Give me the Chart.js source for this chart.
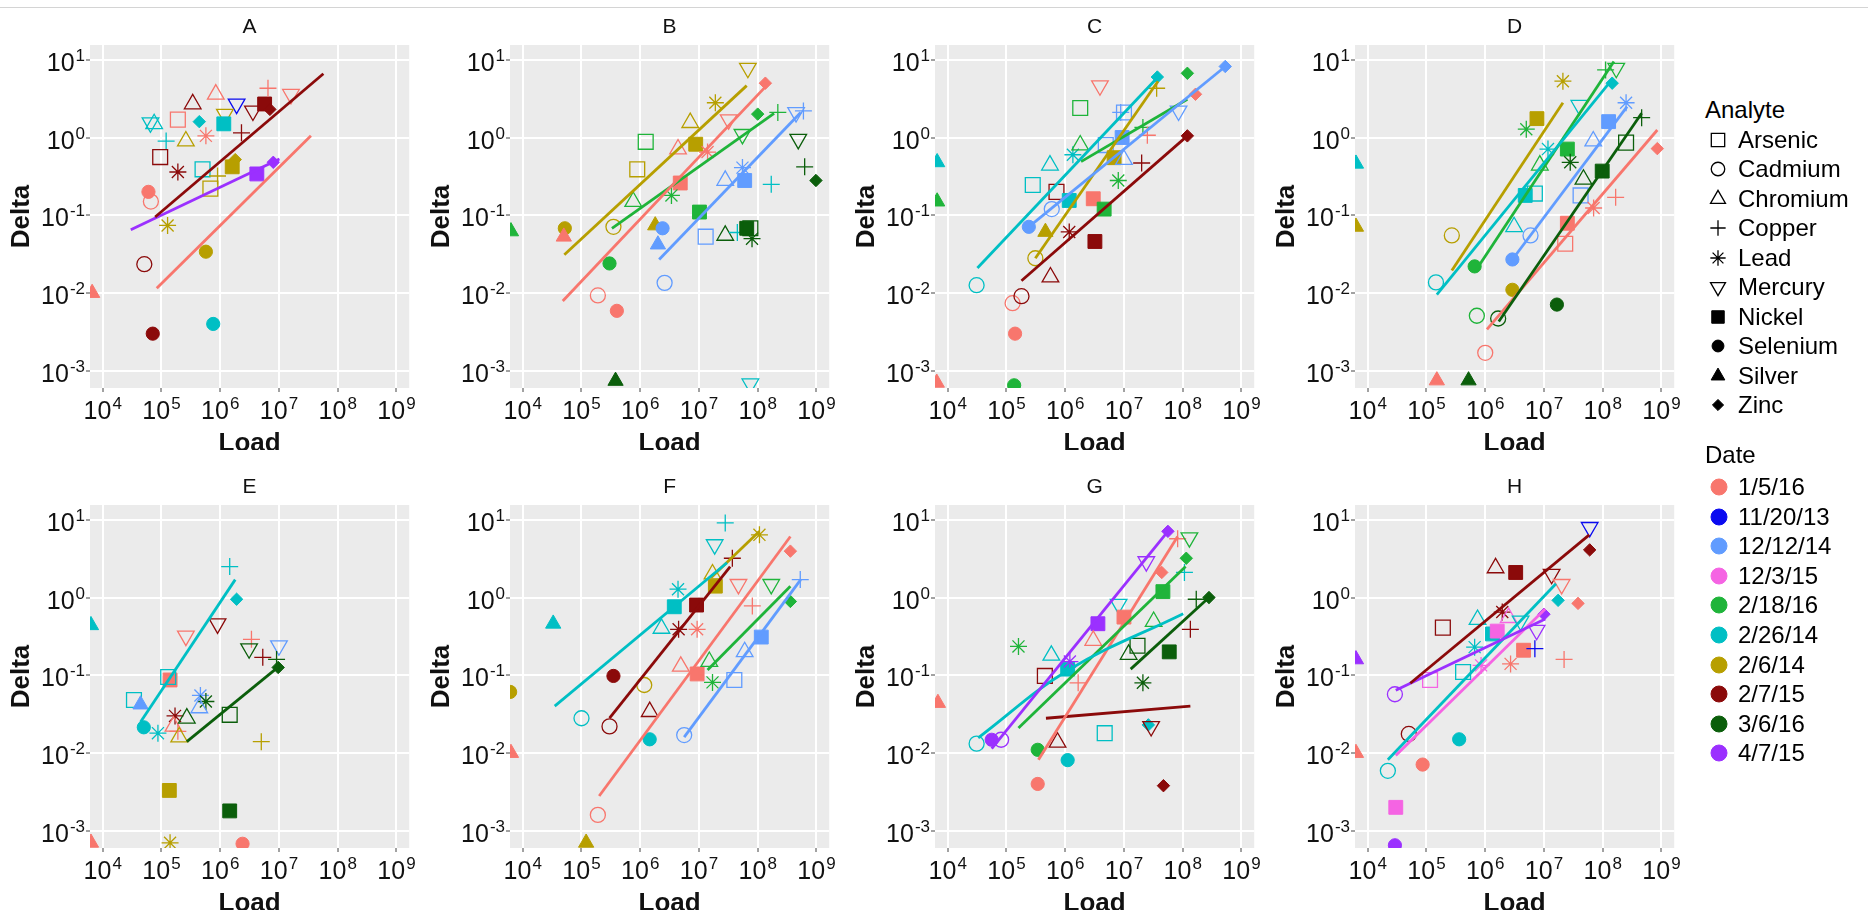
<!DOCTYPE html>
<html>
<head>
<meta charset="utf-8">
<title>Delta vs Load</title>
<script src="https://cdn.jsdelivr.net/npm/chart.js@4.4.1/dist/chart.umd.min.js"></script>
<style>
  html, body { margin: 0; padding: 0; background: #fff; }
  #page { position: relative; width: 1868px; height: 915px; overflow: hidden;
          font-family: "Liberation Sans", Arial, Helvetica, sans-serif; }
  #topline { position: absolute; left: 0; top: 7px; width: 1868px; height: 1px; background: #d4d4d4; }
  canvas.panel { position: absolute; }
  .lg { position: absolute; left: 1706px; height: 30px; line-height: 30px; font-size: 24px;
        color: #000; display: flex; align-items: center; white-space: nowrap; }
  .lg canvas { width: 32px; height: 30px; }
  .lgTitle { position: absolute; left: 1705px; height: 30px; line-height: 30px; font-size: 24px; color: #000; }
</style>
</head>
<body>
<div id="page"><div id="topline"></div></div>
<script>
// ---- categories ----
const dates = ['1/5/16', '11/20/13', '12/12/14', '12/3/15', '2/18/16', '2/26/14', '2/6/14', '2/7/15', '3/6/16', '4/7/15'];
const dateColors = ['#F8766D', '#0A0AF0', '#619CFF', '#F564E3', '#1FB43A', '#00BFC4', '#B79F00', '#8B0A0A', '#0B5E0B', '#9B30FF'];
const analytes = ['Arsenic', 'Cadmium', 'Chromium', 'Copper', 'Lead', 'Mercury', 'Nickel', 'Selenium', 'Silver', 'Zinc'];

// tick labels (powers of ten)
const xTickExps = [4, 5, 6, 7, 8, 9];
const yTickExps = [-3, -2, -1, 0, 1];

// ---- points: [analyte, date, load, delta] ----
const pointsA = [
  ['Mercury', '2/26/14', 6.5e4, 1.55], ['Chromium', '2/26/14', 7.5e4, 1.5],
  ['Arsenic', '1/5/16', 1.9e5, 1.7], ['Chromium', '2/7/15', 3.4e5, 2.7],
  ['Chromium', '1/5/16', 8.4e5, 3.6], ['Mercury', '11/20/13', 1.9e6, 2.7],
  ['Mercury', '2/7/15', 3.6e6, 2.2], ['Nickel', '2/7/15', 5.7e6, 2.7],
  ['Zinc', '2/7/15', 7e6, 2.3], ['Copper', '1/5/16', 6.5e6, 4.3],
  ['Mercury', '1/5/16', 1.6e7, 3.6], ['Zinc', '2/26/14', 4.4e5, 1.6],
  ['Mercury', '2/6/14', 1.2e6, 2.0], ['Nickel', '2/26/14', 1.15e6, 1.5],
  ['Copper', '2/26/14', 1.2e5, 0.9], ['Chromium', '2/6/14', 2.6e5, 0.9],
  ['Lead', '1/5/16', 5.7e5, 1.05], ['Copper', '2/7/15', 2.3e6, 1.15],
  ['Arsenic', '2/7/15', 9.5e4, 0.56], ['Lead', '2/7/15', 1.9e5, 0.36],
  ['Arsenic', '2/26/14', 5e5, 0.39], ['Arsenic', '2/6/14', 6.8e5, 0.22],
  ['Copper', '2/6/14', 9e5, 0.32], ['Nickel', '2/6/14', 1.6e6, 0.42],
  ['Zinc', '2/6/14', 1.8e6, 0.52], ['Nickel', '4/7/15', 4.2e6, 0.34],
  ['Zinc', '4/7/15', 8e6, 0.48], ['Selenium', '1/5/16', 6e4, 0.2],
  ['Cadmium', '1/5/16', 6.6e4, 0.15], ['Lead', '2/6/14', 1.27e5, 0.074],
  ['Cadmium', '2/7/15', 5.1e4, 0.0235], ['Selenium', '2/6/14', 5.7e5, 0.034],
  ['Silver', '1/5/16', 6.6e3, 0.01], ['Selenium', '2/7/15', 7.1e4, 0.003],
  ['Selenium', '2/26/14', 7.6e5, 0.004]
];
const pointsB = [
  ['Silver', '2/18/16', 6.3e3, 0.062], ['Selenium', '2/6/14', 5.2e4, 0.068],
  ['Silver', '1/5/16', 5e4, 0.053], ['Cadmium', '2/6/14', 3.5e5, 0.071],
  ['Selenium', '2/18/16', 3e5, 0.024], ['Cadmium', '1/5/16', 1.9e5, 0.0093],
  ['Selenium', '1/5/16', 4e5, 0.0059], ['Silver', '3/6/16', 3.8e5, 0.00074],
  ['Arsenic', '2/18/16', 1.24e6, 0.88], ['Arsenic', '2/6/14', 8.9e5, 0.39],
  ['Chromium', '2/6/14', 7.1e6, 1.55], ['Nickel', '2/6/14', 8.8e6, 0.82],
  ['Lead', '2/6/14', 1.9e7, 2.8], ['Mercury', '2/6/14', 6.8e7, 7.8],
  ['Chromium', '2/18/16', 7.6e5, 0.15], ['Chromium', '1/5/16', 4.4e6, 0.71],
  ['Nickel', '1/5/16', 4.8e6, 0.26], ['Mercury', '1/5/16', 3.2e7, 1.7],
  ['Zinc', '1/5/16', 1.35e8, 5], ['Lead', '1/5/16', 1.4e7, 0.65],
  ['Lead', '2/18/16', 3.4e6, 0.18], ['Nickel', '2/18/16', 1.02e7, 0.11],
  ['Mercury', '2/18/16', 5.5e7, 1.1], ['Zinc', '2/18/16', 1e8, 2.0],
  ['Copper', '2/18/16', 2.2e8, 2.1], ['Silver', '2/6/14', 1.8e6, 0.074],
  ['Selenium', '12/12/14', 2.4e6, 0.068], ['Silver', '12/12/14', 2e6, 0.042],
  ['Cadmium', '12/12/14', 2.6e6, 0.0135], ['Arsenic', '12/12/14', 1.3e7, 0.053],
  ['Chromium', '3/6/16', 2.8e7, 0.055], ['Copper', '2/26/14', 4.5e7, 0.06],
  ['Nickel', '3/6/16', 6.5e7, 0.068], ['Arsenic', '3/6/16', 7.5e7, 0.068],
  ['Lead', '3/6/16', 8e7, 0.05], ['Chromium', '12/12/14', 2.8e7, 0.28],
  ['Nickel', '12/12/14', 6e7, 0.28], ['Lead', '12/12/14', 5.5e7, 0.41],
  ['Copper', '2/26/14', 1.7e8, 0.25], ['Mercury', '12/12/14', 4.5e8, 2.1],
  ['Copper', '12/12/14', 6e8, 2.2], ['Mercury', '3/6/16', 4.9e8, 0.95],
  ['Copper', '3/6/16', 6.3e8, 0.42], ['Zinc', '3/6/16', 9.8e8, 0.28],
  ['Mercury', '2/26/14', 7.5e7, 0.00068]
];
const pointsC = [
  ['Silver', '2/26/14', 6.6e3, 0.48], ['Silver', '2/18/16', 6.6e3, 0.15],
  ['Silver', '1/5/16', 6.5e3, 0.0007], ['Cadmium', '2/26/14', 3.1e4, 0.0126],
  ['Cadmium', '1/5/16', 1.27e5, 0.0074], ['Cadmium', '2/7/15', 1.8e5, 0.0091],
  ['Selenium', '1/5/16', 1.4e5, 0.003], ['Selenium', '2/18/16', 1.35e5, 0.00065],
  ['Selenium', '12/12/14', 2.4e5, 0.071], ['Cadmium', '2/6/14', 3.1e5, 0.028],
  ['Chromium', '2/7/15', 5.6e5, 0.016], ['Silver', '2/6/14', 4.6e5, 0.061],
  ['Cadmium', '12/12/14', 5.9e5, 0.12], ['Arsenic', '2/26/14', 2.8e5, 0.245],
  ['Chromium', '2/26/14', 5.5e5, 0.44], ['Arsenic', '2/7/15', 7.1e5, 0.2],
  ['Nickel', '2/26/14', 1.17e6, 0.155], ['Lead', '2/26/14', 1.35e6, 0.6],
  ['Chromium', '2/18/16', 1.8e6, 0.8], ['Arsenic', '2/18/16', 1.8e6, 2.4],
  ['Mercury', '1/5/16', 3.9e6, 4.65], ['Lead', '2/7/15', 1.17e6, 0.061],
  ['Nickel', '1/5/16', 3e6, 0.163], ['Nickel', '2/7/15', 3.2e6, 0.046],
  ['Nickel', '2/18/16', 4.6e6, 0.12], ['Arsenic', '12/12/14', 4.9e6, 0.8],
  ['Nickel', '2/6/14', 6.8e6, 0.55], ['Chromium', '12/12/14', 1e7, 0.52],
  ['Lead', '2/18/16', 8e6, 0.28], ['Nickel', '12/12/14', 9.3e6, 1.0],
  ['Copper', '12/12/14', 8.8e6, 2.1], ['Arsenic', '12/12/14', 1e7, 2.1],
  ['Copper', '2/18/16', 2.1e7, 1.35], ['Copper', '1/5/16', 2.5e7, 1.07],
  ['Copper', '2/7/15', 2e7, 0.47], ['Copper', '2/6/14', 3.6e7, 4.3],
  ['Zinc', '2/26/14', 3.7e7, 6.0], ['Mercury', '12/12/14', 8.5e7, 2.2],
  ['Zinc', '2/18/16', 1.2e8, 6.7], ['Zinc', '1/5/16', 1.65e8, 3.6],
  ['Zinc', '2/7/15', 1.2e8, 1.05], ['Zinc', '12/12/14', 5.3e8, 8.2]
];
const pointsD = [
  ['Silver', '2/26/14', 6.3e3, 0.46], ['Silver', '2/6/14', 6.3e3, 0.071],
  ['Silver', '1/5/16', 1.5e5, 0.00075], ['Silver', '3/6/16', 5.2e5, 0.00075],
  ['Cadmium', '2/6/14', 2.7e5, 0.055], ['Cadmium', '2/26/14', 1.45e5, 0.0137],
  ['Cadmium', '2/18/16', 7.2e5, 0.0051], ['Cadmium', '1/5/16', 1e6, 0.0017],
  ['Cadmium', '3/6/16', 1.66e6, 0.0047], ['Selenium', '2/18/16', 6.6e5, 0.022],
  ['Selenium', '2/6/14', 2.9e6, 0.011], ['Selenium', '3/6/16', 1.66e7, 0.0071],
  ['Selenium', '12/12/14', 2.9e6, 0.027], ['Cadmium', '12/12/14', 5.9e6, 0.055],
  ['Chromium', '2/26/14', 3.1e6, 0.071], ['Nickel', '2/26/14', 4.8e6, 0.18],
  ['Arsenic', '2/26/14', 7e6, 0.19], ['Chromium', '2/18/16', 8.5e6, 0.44],
  ['Lead', '2/26/14', 1.17e7, 0.71], ['Nickel', '2/18/16', 2.5e7, 0.71],
  ['Lead', '2/18/16', 5e6, 1.28], ['Nickel', '2/6/14', 7.6e6, 1.75],
  ['Lead', '2/6/14', 2.1e7, 5.3], ['Mercury', '2/26/14', 4e7, 2.6],
  ['Copper', '2/18/16', 1.12e8, 7.4], ['Mercury', '2/18/16', 1.7e8, 7.8],
  ['Zinc', '2/26/14', 1.45e8, 5], ['Chromium', '12/12/14', 6.9e7, 0.9],
  ['Nickel', '12/12/14', 1.26e8, 1.6], ['Lead', '12/12/14', 2.5e8, 2.8],
  ['Lead', '3/6/16', 2.8e7, 0.48], ['Chromium', '3/6/16', 4.7e7, 0.29],
  ['Arsenic', '12/12/14', 4.2e7, 0.18], ['Nickel', '3/6/16', 9.8e7, 0.37],
  ['Arsenic', '3/6/16', 2.5e8, 0.86], ['Copper', '3/6/16', 4.6e8, 1.8],
  ['Zinc', '1/5/16', 8.5e8, 0.72], ['Copper', '1/5/16', 1.66e8, 0.17],
  ['Lead', '1/5/16', 7e7, 0.124], ['Nickel', '1/5/16', 2.5e7, 0.079],
  ['Arsenic', '1/5/16', 2.3e7, 0.043]
];
const pointsE = [
  ['Silver', '2/26/14', 6.3e3, 0.44], ['Silver', '1/5/16', 6.3e3, 0.0007],
  ['Arsenic', '2/26/14', 3.4e4, 0.048], ['Silver', '12/12/14', 4.4e4, 0.042],
  ['Selenium', '2/26/14', 5e4, 0.0214], ['Lead', '2/26/14', 8.7e4, 0.018],
  ['Nickel', '1/5/16', 1.4e5, 0.087], ['Arsenic', '2/26/14', 1.3e5, 0.095],
  ['Mercury', '1/5/16', 2.6e5, 0.32], ['Mercury', '2/7/15', 9e5, 0.46],
  ['Copper', '2/26/14', 1.45e6, 2.5], ['Zinc', '2/26/14', 1.9e6, 0.95],
  ['Lead', '2/7/15', 1.7e5, 0.03], ['Chromium', '1/5/16', 1.6e5, 0.022],
  ['Copper', '1/5/16', 1.9e5, 0.019], ['Chromium', '3/6/16', 2.7e5, 0.028],
  ['Chromium', '2/6/14', 2e5, 0.016], ['Lead', '12/12/14', 4.6e5, 0.055],
  ['Lead', '3/6/16', 5.7e5, 0.046], ['Chromium', '12/12/14', 4.4e5, 0.038],
  ['Arsenic', '3/6/16', 1.45e6, 0.031], ['Copper', '1/5/16', 3.4e6, 0.29],
  ['Mercury', '3/6/16', 3.1e6, 0.22], ['Copper', '2/7/15', 5.3e6, 0.17],
  ['Mercury', '12/12/14', 1e7, 0.24], ['Copper', '3/6/16', 9.1e6, 0.16],
  ['Zinc', '3/6/16', 9.7e6, 0.126], ['Copper', '2/6/14', 5e6, 0.014],
  ['Nickel', '2/6/14', 1.36e5, 0.0033], ['Nickel', '3/6/16', 1.45e6, 0.0018],
  ['Lead', '2/6/14', 1.4e5, 0.0007], ['Selenium', '1/5/16', 2.4e6, 0.00068]
];
const pointsF = [
  ['Selenium', '2/6/14', 6.1e3, 0.061], ['Silver', '1/5/16', 6.3e3, 0.01],
  ['Silver', '2/26/14', 3.3e4, 0.46], ['Cadmium', '2/26/14', 1e5, 0.028],
  ['Silver', '2/6/14', 1.2e5, 0.0007], ['Cadmium', '1/5/16', 1.9e5, 0.0016],
  ['Cadmium', '2/7/15', 3e5, 0.022], ['Selenium', '2/7/15', 3.5e5, 0.098],
  ['Cadmium', '2/6/14', 1.17e6, 0.075], ['Chromium', '2/7/15', 1.45e6, 0.034],
  ['Selenium', '2/26/14', 1.45e6, 0.015], ['Cadmium', '12/12/14', 5.6e6, 0.017],
  ['Chromium', '2/26/14', 2.3e6, 0.4], ['Lead', '2/26/14', 4.4e6, 1.28],
  ['Nickel', '2/26/14', 3.8e6, 0.76], ['Lead', '2/7/15', 4.5e6, 0.39],
  ['Nickel', '2/7/15', 9.1e6, 0.8], ['Lead', '1/5/16', 9.3e6, 0.39],
  ['Chromium', '1/5/16', 4.9e6, 0.13], ['Nickel', '1/5/16', 9.3e6, 0.104],
  ['Lead', '2/18/16', 1.7e7, 0.081], ['Mercury', '2/26/14', 1.85e7, 4.8],
  ['Copper', '2/26/14', 2.8e7, 9.1], ['Nickel', '2/6/14', 1.9e7, 1.4],
  ['Chromium', '2/6/14', 1.7e7, 2.0], ['Copper', '2/7/15', 3.7e7, 3.2],
  ['Lead', '2/6/14', 1.07e8, 6.4], ['Mercury', '1/5/16', 4.7e7, 1.48],
  ['Copper', '1/5/16', 8.1e7, 0.78], ['Mercury', '2/18/16', 1.7e8, 1.48],
  ['Zinc', '1/5/16', 3.6e8, 3.95], ['Zinc', '2/18/16', 3.6e8, 0.89],
  ['Copper', '12/12/14', 5.3e8, 1.7], ['Nickel', '12/12/14', 1.15e8, 0.31],
  ['Chromium', '12/12/14', 6e7, 0.2], ['Arsenic', '12/12/14', 4e7, 0.087],
  ['Chromium', '2/18/16', 1.5e7, 0.15]
];
const pointsG = [
  ['Silver', '1/5/16', 6.8e3, 0.044], ['Cadmium', '2/26/14', 3.1e4, 0.0132],
  ['Selenium', '4/7/15', 5.6e4, 0.0148], ['Cadmium', '4/7/15', 8.1e4, 0.0148],
  ['Lead', '2/18/16', 1.6e5, 0.235], ['Arsenic', '2/7/15', 4.5e5, 0.098],
  ['Chromium', '2/26/14', 5.8e5, 0.18], ['Selenium', '2/18/16', 3.4e5, 0.011],
  ['Selenium', '1/5/16', 3.4e5, 0.004], ['Chromium', '2/7/15', 7.4e5, 0.0137],
  ['Selenium', '2/26/14', 1.1e6, 0.0081], ['Nickel', '2/26/14', 1.1e6, 0.12],
  ['Lead', '4/7/15', 1.2e6, 0.15], ['Copper', '1/5/16', 1.66e6, 0.08],
  ['Nickel', '4/7/15', 3.6e6, 0.46], ['Chromium', '1/5/16', 3e6, 0.28],
  ['Arsenic', '2/26/14', 4.7e6, 0.018], ['Mercury', '2/26/14', 8.1e6, 0.82],
  ['Nickel', '1/5/16', 1e7, 0.56], ['Mercury', '4/7/15', 2.4e7, 2.9],
  ['Zinc', '1/5/16', 4.4e7, 2.1], ['Zinc', '4/7/15', 5.6e7, 7.1],
  ['Copper', '1/5/16', 8.2e7, 5.7], ['Mercury', '2/18/16', 1.3e8, 5.9],
  ['Zinc', '2/18/16', 1.15e8, 3.2], ['Copper', '2/26/14', 1.07e8, 2.1],
  ['Nickel', '2/18/16', 4.6e7, 1.19], ['Chromium', '2/18/16', 3.2e7, 0.49],
  ['Chromium', '3/6/16', 1.2e7, 0.185], ['Arsenic', '3/6/16', 1.7e7, 0.24],
  ['Nickel', '3/6/16', 5.9e7, 0.2], ['Lead', '3/6/16', 2.1e7, 0.08],
  ['Copper', '2/7/15', 1.35e8, 0.39], ['Copper', '3/6/16', 1.7e8, 0.95],
  ['Zinc', '3/6/16', 2.8e8, 1.0], ['Zinc', '2/26/14', 2.6e7, 0.023],
  ['Mercury', '2/7/15', 2.9e7, 0.022], ['Zinc', '2/7/15', 4.7e7, 0.0038]
];
const pointsH = [
  ['Silver', '4/7/15', 6.3e3, 0.16], ['Silver', '1/5/16', 6.3e3, 0.01],
  ['Cadmium', '4/7/15', 2.9e4, 0.057], ['Cadmium', '2/26/14', 2.2e4, 0.0059],
  ['Cadmium', '2/7/15', 5e4, 0.0176], ['Selenium', '1/5/16', 8.6e4, 0.0071],
  ['Nickel', '12/3/15', 3e4, 0.002], ['Selenium', '4/7/15', 2.9e4, 0.00065],
  ['Selenium', '2/26/14', 3.6e5, 0.015], ['Arsenic', '12/3/15', 1.15e5, 0.087],
  ['Arsenic', '2/7/15', 1.9e5, 0.41], ['Arsenic', '2/26/14', 4.2e5, 0.11],
  ['Lead', '2/26/14', 6.6e5, 0.23], ['Lead', '12/3/15', 8.5e5, 0.134],
  ['Chromium', '2/26/14', 7.4e5, 0.52], ['Nickel', '2/26/14', 1.33e6, 0.34],
  ['Nickel', '12/3/15', 1.6e6, 0.37], ['Chromium', '2/7/15', 1.5e6, 2.4],
  ['Nickel', '2/7/15', 3.3e6, 2.1], ['Lead', '2/7/15', 1.95e6, 0.65],
  ['Chromium', '12/3/15', 2.5e6, 0.55], ['Lead', '1/5/16', 2.7e6, 0.14],
  ['Nickel', '1/5/16', 4.5e6, 0.21], ['Copper', '11/20/13', 7e6, 0.22],
  ['Mercury', '4/7/15', 7.5e6, 0.38], ['Mercury', '2/26/14', 4e6, 0.5],
  ['Zinc', '4/7/15', 1e7, 0.61], ['Mercury', '2/7/15', 1.35e7, 2.0],
  ['Mercury', '1/5/16', 2e7, 1.48], ['Zinc', '2/26/14', 1.74e7, 0.92],
  ['Zinc', '1/5/16', 3.8e7, 0.84], ['Copper', '1/5/16', 2.2e7, 0.16],
  ['Mercury', '11/20/13', 6e7, 8.0], ['Zinc', '2/7/15', 6e7, 4.1]
];

// ---- fitted lines: [date, load1, delta1, load2, delta2, ...] ----
const linesA = [
  ['2/7/15', 7.8e4, 0.095, 5.7e7, 6.6],
  ['4/7/15', 3e4, 0.065, 1.02e7, 0.53],
  ['1/5/16', 8.3e4, 0.0115, 3.5e7, 1.05]
];
const linesB = [
  ['2/6/14', 5.1e4, 0.031, 6.5e7, 4.65],
  ['1/5/16', 4.8e4, 0.0079, 1.3e8, 4.35],
  ['2/18/16', 3.3e5, 0.068, 1.9e8, 2.04],
  ['12/12/14', 2.1e6, 0.027, 5.4e8, 2.1]
];
const linesC = [
  ['2/26/14', 3.2e4, 0.021, 3.8e7, 6.0],
  ['12/12/14', 2.4e5, 0.071, 5.3e8, 8.2],
  ['2/6/14', 3.1e5, 0.028, 3.8e7, 5.3],
  ['2/18/16', 1.86e6, 0.49, 1.2e8, 3.1],
  ['2/7/15', 1.8e5, 0.0144, 1.2e8, 1.05]
];
const linesD = [
  ['2/6/14', 2.7e5, 0.0195, 2.1e7, 2.8],
  ['2/26/14', 1.5e5, 0.0095, 1.45e8, 5.6],
  ['2/18/16', 6.9e5, 0.0195, 1.55e8, 9.5],
  ['12/12/14', 2.9e6, 0.027, 2.6e8, 2.5],
  ['3/6/16', 1.7e6, 0.0043, 4.6e8, 2.05],
  ['1/5/16', 1.07e6, 0.0034, 8.5e8, 1.25]
];
const linesE = [
  ['2/26/14', 4.4e4, 0.025, 1.8e6, 1.7],
  ['3/6/16', 2.7e5, 0.014, 1.05e7, 0.134]
];
const linesF = [
  ['2/26/14', 3.5e4, 0.04, 3e7, 2.8],
  ['2/7/15', 3e5, 0.028, 3.4e7, 2.5],
  ['2/6/14', 1.6e7, 1.8, 1.07e8, 7.1],
  ['1/5/16', 2e5, 0.0028, 3.6e8, 6.1],
  ['2/18/16', 1.4e7, 0.117, 3.6e8, 1.4],
  ['12/12/14', 5.6e6, 0.016, 5.4e8, 1.7]
];
const linesG = [
  ['4/7/15', 5.6e4, 0.0114, 5.6e7, 7.1],
  ['2/26/14', 3.3e4, 0.0157, 1.1e6, 0.115, 1.02e8, 0.62],
  ['2/18/16', 1.6e5, 0.021, 1.12e8, 2.5],
  ['1/5/16', 3.5e5, 0.0082, 8.2e7, 6.1],
  ['3/6/16', 1.3e7, 0.12, 2.8e8, 1.0],
  ['2/7/15', 4.7e5, 0.028, 1.35e8, 0.04]
];
const linesH = [
  ['2/7/15', 5.3e4, 0.079, 5.9e7, 6.4],
  ['4/7/15', 3e4, 0.064, 1.05e7, 0.53],
  ['12/3/15', 3e4, 0.0093, 1.05e7, 0.71],
  ['2/26/14', 2.2e4, 0.0082, 1.6e7, 1.5]
];

// ---- styling ----
const FONT = '"Liberation Sans", Arial, Helvetica, sans-serif';
const shapeStyle = {
  Arsenic:  { style: 'rect',     r: 10.5, rot: 0,   fill: false },
  Cadmium:  { style: 'circle',   r: 7.5,  rot: 0,   fill: false },
  Chromium: { style: 'triangle', r: 9.6,  rot: 0,   fill: false },
  Copper:   { style: 'cross',    r: 8.5,  rot: 0,   fill: false },
  Lead:     { style: 'star',     r: 8.5,  rot: 0,   fill: false },
  Mercury:  { style: 'triangle', r: 9.6,  rot: 180, fill: false },
  Nickel:   { style: 'rect',     r: 9.8,  rot: 0,   fill: true },
  Selenium: { style: 'circle',   r: 6.6,  rot: 0,   fill: true },
  Silver:   { style: 'triangle', r: 8.8,  rot: 0,   fill: true },
  Zinc:     { style: 'rectRot',  r: 6.2,  rot: 0,   fill: true }
};
const colorOf = d => dateColors[dates.indexOf(d)];

const panels = [
  { title: 'A', left: 0,    top: 5,   points: pointsA, lines: linesA },
  { title: 'B', left: 420,  top: 5,   points: pointsB, lines: linesB },
  { title: 'C', left: 845,  top: 5,   points: pointsC, lines: linesC },
  { title: 'D', left: 1265, top: 5,   points: pointsD, lines: linesD },
  { title: 'E', left: 0,    top: 465, points: pointsE, lines: linesE },
  { title: 'F', left: 420,  top: 465, points: pointsF, lines: linesF },
  { title: 'G', left: 845,  top: 465, points: pointsG, lines: linesG },
  { title: 'H', left: 1265, top: 465, points: pointsH, lines: linesH }
];

// "10" with a superscript exponent, like ggplot's math labels
function drawPow(ctx, k, x, baseline, align) {
  ctx.font = '25px ' + FONT;
  const w1 = ctx.measureText('10').width;
  ctx.font = '17px ' + FONT;
  const w2 = ctx.measureText(String(k)).width;
  const total = w1 + 1 + w2;
  const start = align === 'center' ? x - total / 2 : x - total;
  ctx.textAlign = 'left';
  ctx.textBaseline = 'alphabetic';
  ctx.font = '25px ' + FONT;
  ctx.fillText('10', start, baseline);
  ctx.font = '17px ' + FONT;
  ctx.fillText(String(k), start + w1 + 1, baseline - 10);
}

const ggPanel = {
  id: 'ggPanel',
  beforeDraw(chart) {
    const { ctx, chartArea: a } = chart;
    ctx.save();
    ctx.fillStyle = '#EBEBEB';
    ctx.fillRect(a.left, a.top, a.width, a.height);
    ctx.restore();
  },
  afterDraw(chart, args, opts) {
    const { ctx, chartArea: a, scales } = chart;
    ctx.save();
    ctx.fillStyle = '#111';
    xTickExps.forEach(k => drawPow(ctx, k, scales.x.getPixelForValue(10 ** k), a.bottom + 31, 'center'));
    yTickExps.forEach(k => drawPow(ctx, k, a.left - 5, scales.y.getPixelForValue(10 ** k) + 11, 'right'));

    const cx = (a.left + a.right) / 2, cy = (a.top + a.bottom) / 2;
    ctx.textAlign = 'center';
    ctx.textBaseline = 'middle';
    ctx.font = '21px ' + FONT;
    ctx.fillText(opts.title, cx, a.top - 18);
    ctx.font = 'bold 26px ' + FONT;
    ctx.fillText('Load', cx, a.bottom + 56);
    ctx.translate(a.left - 68, cy);
    ctx.rotate(-Math.PI / 2);
    ctx.fillText('Delta', 0, 0);
    ctx.restore();
  }
};

const page = document.getElementById('page');

panels.forEach(p => {
  const cv = document.createElement('canvas');
  cv.className = 'panel';
  cv.width = 421;
  cv.height = 445;
  cv.style.left = p.left + 'px';
  cv.style.top = p.top + 'px';
  page.appendChild(cv);

  const lineSets = p.lines.map(l => {
    const pts = [];
    for (let i = 1; i < l.length; i += 2) pts.push({ x: l[i], y: l[i + 1] });
    return {
      type: 'line',
      data: pts,
      borderColor: colorOf(l[0]),
      borderWidth: 2.8,
      pointRadius: 0,
      fill: false,
      tension: pts.length > 2 ? 0.4 : 0,
      clip: 0,
      order: 0
    };
  });

  const st = p.points.map(q => shapeStyle[q[0]]);
  const pointSet = {
    type: 'scatter',
    data: p.points.map(q => ({ x: q[2], y: q[3] })),
    pointStyle: st.map(s => s.style),
    pointRadius: st.map(s => s.r),
    pointRotation: st.map(s => s.rot),
    pointBackgroundColor: p.points.map((q, i) => st[i].fill ? colorOf(q[1]) : 'rgba(0,0,0,0)'),
    pointBorderColor: p.points.map(q => colorOf(q[1])),
    pointBorderWidth: st.map(s => s.fill ? 1 : 1.3),
    clip: 0,
    order: 1
  };

  new Chart(cv, {
    type: 'scatter',
    data: { datasets: [...lineSets, pointSet] },
    options: {
      responsive: false,
      animation: false,
      events: [],
      layout: { padding: { top: 40, right: 5, left: 0, bottom: 0 } },
      plugins: {
        legend: { display: false },
        tooltip: { enabled: false },
        ggPanel: { title: p.title }
      },
      scales: {
        x: {
          type: 'logarithmic',
          min: 10 ** 3.783,
          max: 10 ** 9.217,
          ticks: { display: false },
          grid: { color: '#FFFFFF', lineWidth: 2, tickColor: '#444', tickLength: 4, tickWidth: 1 },
          border: { display: false },
          afterBuildTicks: s => { s.ticks = xTickExps.map(k => ({ value: 10 ** k })); },
          afterFit: s => { s.height = 62; }
        },
        y: {
          type: 'logarithmic',
          min: 10 ** -3.19,
          max: 10 ** 1.19,
          ticks: { display: false },
          grid: { color: '#FFFFFF', lineWidth: 2, tickColor: '#444', tickLength: 4, tickWidth: 1 },
          border: { display: false },
          afterBuildTicks: s => { s.ticks = yTickExps.map(k => ({ value: 10 ** k })); },
          afterFit: s => { s.width = 90; }
        }
      }
    },
    plugins: [ggPanel]
  });
});

// ---- legends (HTML text, symbols drawn with Chart.js' own point helper) ----
function legendTitle(text, cy) {
  const d = document.createElement('div');
  d.className = 'lgTitle';
  d.style.top = (cy - 15) + 'px';
  d.textContent = text;
  page.appendChild(d);
}
function legendItem(text, cy, draw) {
  const d = document.createElement('div');
  d.className = 'lg';
  d.style.top = (cy - 15) + 'px';
  const c = document.createElement('canvas');
  c.width = 32;
  c.height = 30;
  d.appendChild(c);
  const s = document.createElement('span');
  s.textContent = text;
  d.appendChild(s);
  page.appendChild(d);
  draw(c.getContext('2d'));
}

legendTitle('Analyte', 110);
analytes.forEach((a, i) => {
  const s = shapeStyle[a];
  legendItem(a, 140 + i * 29.45, ctx => {
    ctx.fillStyle = s.fill ? '#000' : 'rgba(0,0,0,0)';
    ctx.strokeStyle = '#000';
    ctx.lineWidth = s.fill ? 1 : 1.3;
    Chart.helpers.drawPoint(ctx, { pointStyle: s.style, radius: s.r * 0.9, rotation: s.rot, borderWidth: ctx.lineWidth }, 12, 15);
  });
});

legendTitle('Date', 455);
dates.forEach((d, i) => {
  legendItem(d, 487 + i * 29.6, ctx => {
    ctx.fillStyle = dateColors[i];
    ctx.strokeStyle = dateColors[i];
    ctx.lineWidth = 1;
    Chart.helpers.drawPoint(ctx, { pointStyle: 'circle', radius: 8, rotation: 0, borderWidth: 1 }, 13, 15);
  });
});
</script>
</body>
</html>
